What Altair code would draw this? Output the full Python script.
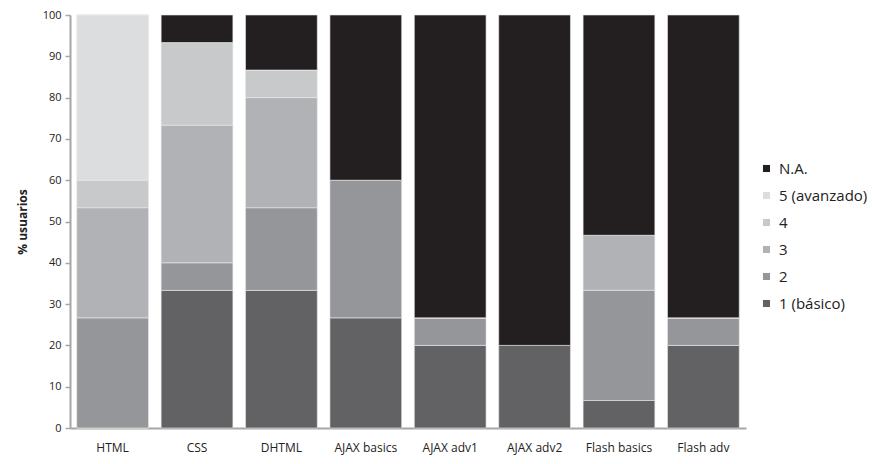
import altair as alt
import pandas as pd

categories = ["HTML", "CSS", "DHTML", "AJAX basics", "AJAX adv1", "AJAX adv2", "Flash basics", "Flash adv"]
levels = ["1 (básico)", "2", "3", "4", "5 (avanzado)", "N.A."]
level_colors = ["#626264", "#959699", "#b1b2b5", "#c8c9cb", "#dcdddf", "#231f20"]

lvl1 = [0.0, 33.33, 33.33, 26.67, 20.0, 20.0, 6.67, 20.0]
lvl2 = [26.67, 6.67, 20.0, 33.33, 6.67, 0.0, 26.67, 6.67]
lvl3 = [26.67, 33.33, 26.67, 0.0, 0.0, 0.0, 13.33, 0.0]
lvl4 = [6.67, 20.0, 6.67, 0.0, 0.0, 0.0, 0.0, 0.0]
lvl5 = [40.0, 0.0, 0.0, 0.0, 0.0, 0.0, 0.0, 0.0]
na = [0.0, 6.67, 13.33, 40.0, 73.33, 80.0, 53.33, 73.33]

series = [lvl1, lvl2, lvl3, lvl4, lvl5, na]
rows = []
for li, (lv, vals) in enumerate(zip(levels, series)):
    for c, v in zip(categories, vals):
        rows.append({"cat": c, "nivel": lv, "ord": li, "val": v})
df = pd.DataFrame(rows)

font = "Open Sans"

chart = alt.Chart(df).mark_bar(stroke="#e8e8e8", strokeWidth=0.6).encode(
    x=alt.X("cat:N", sort=categories, title=None,
            scale=alt.Scale(paddingInner=0.15, paddingOuter=0.08),
            axis=alt.Axis(labelAngle=0, ticks=False, domainColor="#a6a6a6", domainWidth=2,
                          labelFontSize=12, labelColor="#222222", labelPadding=14, labelFont=font)),
    y=alt.Y("val:Q", stack="zero", title="% usuarios",
            scale=alt.Scale(domain=[0, 100], nice=False),
            axis=alt.Axis(values=list(range(0, 101, 10)), grid=False, domainColor="#a6a6a6", domainWidth=2,
                          tickColor="#a6a6a6", tickSize=5, tickWidth=1.5, labelFontSize=11,
                          labelColor="#222222", labelPadding=4, labelFont=font,
                          titleFont=font, titleFontSize=12, titleFontWeight="bold", titleColor="#222222",
                          titlePadding=13)),
    color=alt.Color("nivel:N",
                    scale=alt.Scale(domain=levels[::-1], range=level_colors[::-1]),
                    legend=alt.Legend(title=None, orient="none", legendX=689, legendY=146,
                                      symbolType="square", symbolSize=50, symbolStrokeWidth=0,
                                      labelFontSize=15, labelFont=font, labelColor="#222222",
                                      rowPadding=11, labelOffset=5)),
    order=alt.Order("ord:Q", sort="ascending"),
).properties(
    width=676, height=413,
    autosize=alt.AutoSizeParams(type="none"),
    padding={"left": 70, "top": 15, "right": 126, "bottom": 36},
).configure_view(stroke=None)

chart.save("out.html", embed_options={"renderer": "svg", "actions": False})
